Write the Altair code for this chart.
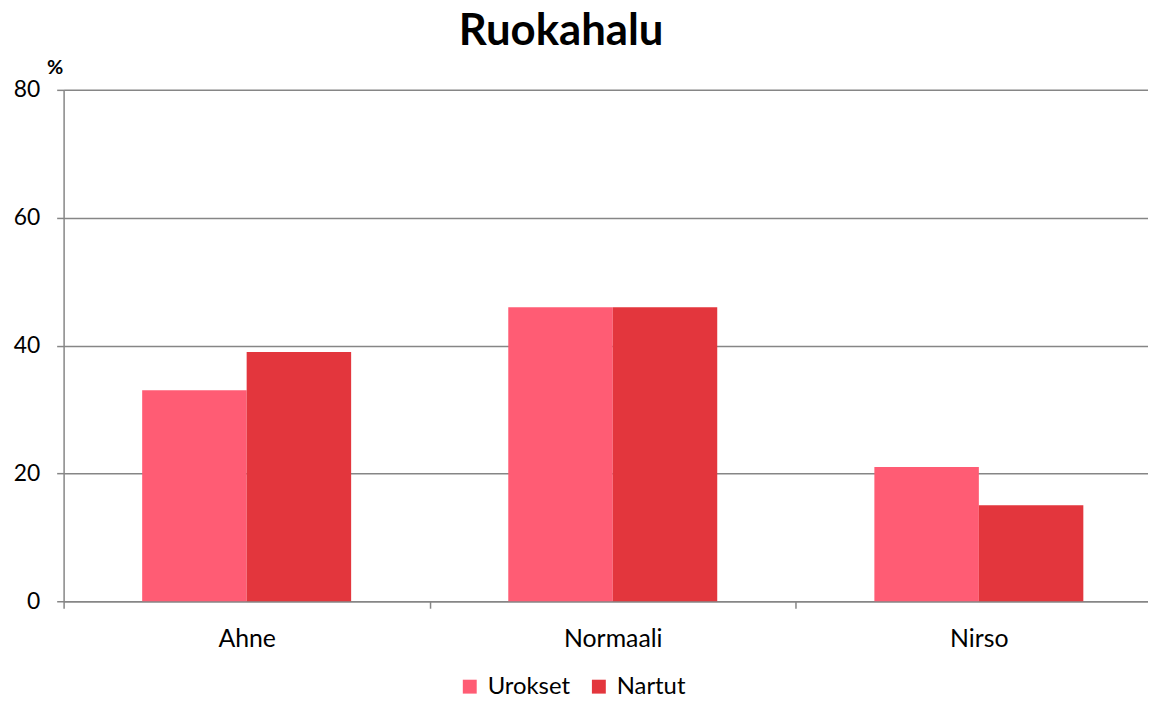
import altair as alt
import pandas as pd

categories = ["Ahne", "Normaali", "Nirso"]
series = ["Urokset", "Nartut"]
urokset = [33, 46, 21]
nartut = [39, 46, 15]
colors = ["#FF5C74", "#E3363D"]

rows = []
for c, u, n in zip(categories, urokset, nartut):
    rows.append({"cat": c, "sex": "Urokset", "val": u})
    rows.append({"cat": c, "sex": "Nartut", "val": n})
df = pd.DataFrame(rows)

FONT = "Lato"
GRID = "#868686"

chart = alt.Chart(df).mark_bar().encode(
    x=alt.X("cat:N", sort=categories,
            scale=alt.Scale(paddingInner=0, paddingOuter=0, range=[0, 1106]),
            axis=alt.Axis(title=None, labelAngle=0, tickBand="extent", tickSize=7,
                          tickColor=GRID, tickWidth=1.5, domainColor=GRID, domainWidth=1.5,
                          labelFontSize=25, labelColor="#000000", labelFont=FONT,
                          labelPadding=19, grid=False)),
    xOffset=alt.XOffset("sex:N", sort=series,
                        scale=alt.Scale(paddingInner=0, paddingOuter=0.752)),
    y=alt.Y("val:Q", scale=alt.Scale(domain=[0, 80]),
            axis=alt.Axis(values=[0, 20, 40, 60, 80], tickSize=7, tickColor=GRID, tickWidth=1.5,
                          domainColor=GRID, domainWidth=1.5, gridColor=GRID, gridWidth=1.5,
                          labelFontSize=23, labelColor="#000000", labelFont=FONT, labelPadding=17,
                          title="%", titleAngle=0, titleX=-9, titleY=-12, titleAlign="center",
                          titleBaseline="bottom", titleFontSize=20, titleFont=FONT,
                          titleFontWeight="bold", titleColor="#000000")),
    color=alt.Color("sex:N", sort=series, scale=alt.Scale(domain=series, range=colors),
                    legend=alt.Legend(title=None, orient="none", direction="horizontal",
                                      legendX=397, legendY=589, symbolType="square",
                                      symbolSize=196, symbolStrokeWidth=0, labelFontSize=24,
                                      labelFont=FONT, labelColor="#000000", columnPadding=17,
                                      labelOffset=6)),
).properties(
    width=1092,
    height=515,
    title=alt.TitleParams("Ruokahalu", fontSize=44, font=FONT, fontWeight="bold",
                          color="#000000", anchor="middle", dx=-45, offset=4),
    autosize=alt.AutoSizeParams(type="none"),
    padding={"left": 56, "top": 80, "right": 0, "bottom": 96},
).configure_view(stroke=None).configure_axis(domainCap="butt")

chart.save("out.html", embed_options={"renderer": "svg", "actions": False})
